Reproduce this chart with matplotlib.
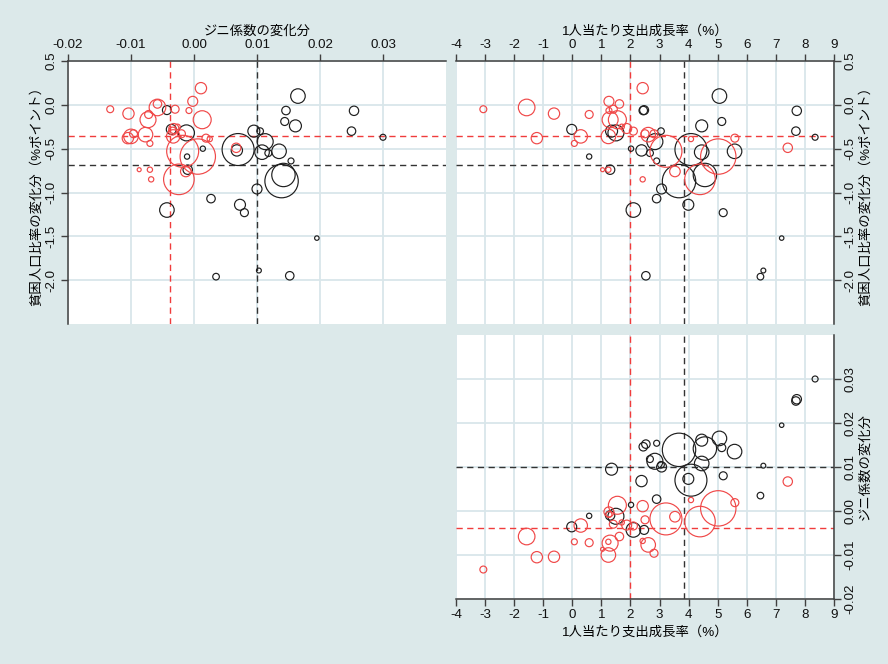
import matplotlib
matplotlib.use("Agg")
import matplotlib.pyplot as plt
import numpy as np

plt.rcParams['font.family'] = ['Liberation Sans', 'Noto Sans CJK JP', 'DejaVu Sans']

# ---- data: per-country values ----
# black group
blk_growth = [3.67, 4.45, 4.56, 5.06, 5.14, 5.58, 4.45, 4.08, 3.99, 5.19, 2.84, 2.67, 3.07, 3.05,
              2.53, 2.44, 2.90, 1.35, 2.38, 2.90, 2.02, 0.58, -0.02, 1.50, 2.10, 2.47, 6.47, 1.30,
              6.57, 7.20, 7.72, 7.69, 8.35]
blk_gini = [0.0139, 0.0161, 0.0142, 0.0165, 0.0144, 0.0135, 0.0108, 0.0070, 0.0073, 0.0080, 0.0113,
            0.0118, 0.0100, 0.0105, 0.0152, 0.0146, 0.0154, 0.0095, 0.0068, 0.0027, 0.0014, -0.0011,
            -0.0036, -0.0012, -0.0043, -0.0043, 0.0035, -0.0010, 0.0103, 0.0195, 0.0254, 0.0250, 0.0300]
blk_pov = [-0.87, -0.24, -0.80, 0.10, -0.19, -0.53, -0.54, -0.51, -1.14, -1.23, -0.42, -0.55, -0.96,
           -0.30, -1.95, -0.065, -0.64, -0.30, -0.52, -1.07, -0.50, -0.59, -0.28, -0.32, -1.20, -0.06,
           -1.96, -0.74, -1.89, -1.52, -0.068, -0.30, -0.37]
blk_pop = [279, 36, 137, 53, 16, 53, 53, 256, 30, 16, 64, 12, 25, 11, 18, 18, 9, 36, 32, 18, 7, 7,
           25, 64, 53, 20, 11, 22, 6, 5, 22, 18, 9]

# red group
red_growth = [3.22, 4.39, 5.02, 5.59, 4.08, 3.53, 1.55, 1.26, 1.26, 2.42, 2.50, 1.41, 1.70, 1.87,
              2.10, 0.29, 0.07, 0.58, 1.62, 1.30, 1.24, 1.24, 1.04, 2.61, 2.42, 2.81, -1.57, -1.22,
              -0.63, -3.06, 7.41]
red_gini = [-0.0018, -0.0024, 0.0006, 0.0019, 0.0025, -0.0013, 0.0013, -0.0002, -0.0008, 0.0011,
            -0.0020, -0.0030, -0.0026, -0.0032, -0.0034, -0.0033, -0.0070, -0.0072, -0.0058, -0.0073,
            -0.0070, -0.0100, -0.0087, -0.0077, -0.0068, -0.0096, -0.0058, -0.0105, -0.0104, -0.0133,
            0.0067]
red_pov = [-0.53, -0.85, -0.59, -0.38, -0.39, -0.76, -0.17, 0.04, -0.065, 0.19, -0.33, -0.05, -0.25,
           -0.27, -0.30, -0.36, -0.44, -0.11, 0.01, -0.17, -0.74, -0.36, -0.74, -0.34, -0.85, -0.33,
           -0.03, -0.38, -0.10, -0.05, -0.49]
red_pop = [256, 234, 313, 16, 7, 28, 81, 25, 9, 32, 16, 16, 7, 25, 16, 45, 9, 16, 18, 64, 7, 53, 4,
           53, 7, 16, 69, 32, 32, 12, 22]

# group means (reference lines)
red_mean_growth, blk_mean_growth = 2.0, 3.83
red_mean_gini, blk_mean_gini = -0.0038, 0.0100
red_mean_pov, blk_mean_pov = -0.36, -0.69

gini_ticks = [-0.02, -0.01, 0.0, 0.01, 0.02, 0.03]
gini_ticklabels = ['-0.02', '-0.01', '0.00', '0.01', '0.02', '0.03']
pov_ticks = [0.5, 0.0, -0.5, -1.0, -1.5, -2.0]
pov_ticklabels = ['0.5', '0.0', '-0.5', '-1.0', '-1.5', '-2.0']
growth_ticks = list(range(-4, 10))
growth_ticklabels = [str(t) for t in growth_ticks]

lab_gini = 'ジニ係数の変化分'
lab_pov = '貧困人口比率の変化分（%ポイント）'
lab_growth = '1人当たり支出成長率（%）'

# ---- style ----
BG = '#dce9ea'
GRID = '#d9e6ea'
RED = '#f04848'
REDLINE = '#f03c3c'
BLK = '#1e1e1e'
AX = '#404040'
FS = 9.6

fig = plt.figure(figsize=(8.88, 6.64), dpi=100, facecolor=BG)
W, H = 888, 664

def make_ax(l, r, t, b):
    return fig.add_axes([l / W, 1 - b / H, (r - l) / W, (b - t) / H])

ax_tl = make_ax(68, 446, 61, 324)
ax_tr = make_ax(456, 834, 61, 324)
ax_br = make_ax(456, 834, 335, 599)

bs = 2.07 * np.array(blk_pop)
rs = 2.07 * np.array(red_pop)

def style(ax, xside, yside):
    ax.set_facecolor('white')
    for s in ['top', 'bottom', 'left', 'right']:
        ax.spines[s].set_visible(False)
    ax.spines[xside].set_visible(True)
    ax.spines[yside].set_visible(True)
    ax.spines[xside].set_color(AX)
    ax.spines[yside].set_color(AX)
    ax.spines[xside].set_linewidth(1.1)
    ax.spines[yside].set_linewidth(1.1)
    if xside == 'top':
        ax.xaxis.tick_top()
        ax.xaxis.set_label_position('top')
    else:
        ax.xaxis.tick_bottom()
    if yside == 'right':
        ax.yaxis.tick_right()
        ax.yaxis.set_label_position('right')
    else:
        ax.yaxis.tick_left()
    ax.tick_params(axis='both', direction='out', length=5, width=1.0, color=AX,
                   labelsize=FS, labelcolor='#111111', pad=2.5)
    for lab in ax.get_yticklabels():
        lab.set_rotation(90)
        lab.set_va('center')
    ax.grid(True, color=GRID, linewidth=1.3, zorder=0)
    ax.set_axisbelow(True)

def dashed(ax, x_red, x_blk, y_red, y_blk):
    ls = (0, (4.5, 3.2))
    ax.axvline(x_red, color=REDLINE, lw=1.0, ls=ls, zorder=1)
    ax.axvline(x_blk, color='#333333', lw=1.0, ls=ls, zorder=1)
    ax.axhline(y_red, color=REDLINE, lw=1.0, ls=ls, zorder=1)
    ax.axhline(y_blk, color='#333333', lw=1.0, ls=ls, zorder=1)

def pts(ax, xb, yb, xr, yr):
    ax.scatter(xb, yb, s=bs, facecolors='none', edgecolors=BLK, linewidths=0.85, zorder=3)
    ax.scatter(xr, yr, s=rs, facecolors='none', edgecolors=RED, linewidths=0.85, zorder=3)

# top-left: gini (x) vs poverty (y)
pts(ax_tl, blk_gini, blk_pov, red_gini, red_pov)
dashed(ax_tl, red_mean_gini, blk_mean_gini, red_mean_pov, blk_mean_pov)
ax_tl.set_xlim(-0.02, 0.04)
ax_tl.set_ylim(-2.5, 0.5)
ax_tl.set_xticks(gini_ticks, gini_ticklabels)
ax_tl.set_yticks(pov_ticks, pov_ticklabels)
style(ax_tl, 'top', 'left')
ax_tl.set_xlabel(lab_gini, fontsize=FS, labelpad=3)
ax_tl.set_ylabel(lab_pov, fontsize=FS, labelpad=2)

# top-right: growth (x) vs poverty (y)
pts(ax_tr, blk_growth, blk_pov, red_growth, red_pov)
dashed(ax_tr, red_mean_growth, blk_mean_growth, red_mean_pov, blk_mean_pov)
ax_tr.set_xlim(-4, 9)
ax_tr.set_ylim(-2.5, 0.5)
ax_tr.set_xticks(growth_ticks, growth_ticklabels)
ax_tr.set_yticks(pov_ticks, pov_ticklabels)
style(ax_tr, 'top', 'right')
ax_tr.set_xlabel(lab_growth, fontsize=FS, labelpad=3)
ax_tr.set_ylabel(lab_pov, fontsize=FS, labelpad=2, rotation=90)

# bottom-right: growth (x) vs gini (y)
pts(ax_br, blk_growth, blk_gini, red_growth, red_gini)
dashed(ax_br, red_mean_growth, blk_mean_growth, red_mean_gini, blk_mean_gini)
ax_br.set_xlim(-4, 9)
ax_br.set_ylim(-0.02, 0.04)
ax_br.set_xticks(growth_ticks, growth_ticklabels)
ax_br.set_yticks(gini_ticks, gini_ticklabels)
style(ax_br, 'bottom', 'right')
ax_br.set_xlabel(lab_growth, fontsize=FS, labelpad=3)
ax_br.set_ylabel(lab_gini, fontsize=FS, labelpad=2, rotation=90)

fig.savefig('out.png', dpi=100, facecolor=BG)
